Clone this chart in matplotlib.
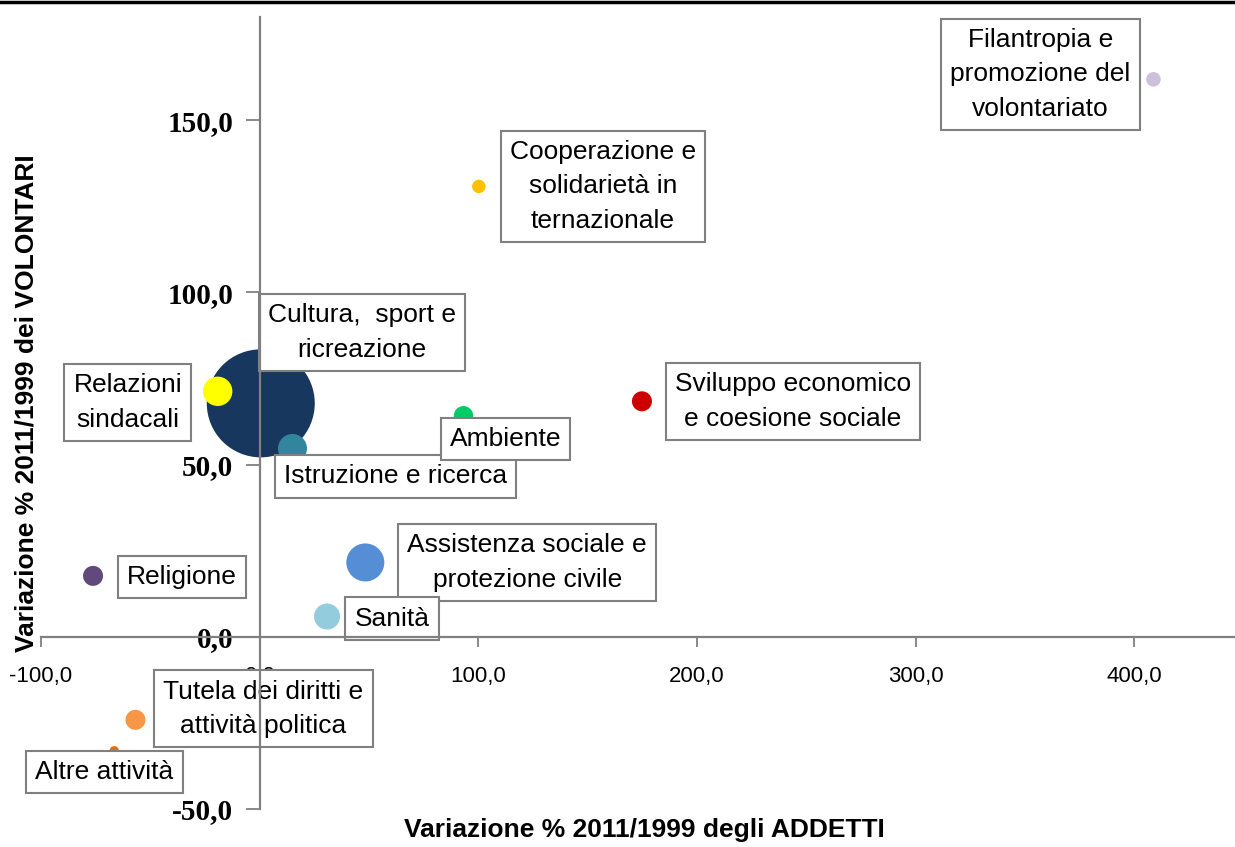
import matplotlib
matplotlib.use("Agg")
import matplotlib.pyplot as plt
from matplotlib.lines import Line2D
from matplotlib.ticker import FuncFormatter

# --- Data ---
settori = [
    "Filantropia e\npromozione del\nvolontariato",
    "Cooperazione e\nsolidarietà in\nternazionale",
    "Cultura,  sport e\nricreazione",
    "Relazioni\nsindacali",
    "Istruzione e ricerca",
    "Ambiente",
    "Sviluppo economico\ne coesione sociale",
    "Religione",
    "Assistenza sociale e\nprotezione civile",
    "Sanità",
    "Tutela dei diritti e\nattività politica",
    "Altre attività",
]
var_addetti = [408.7, 100.2, 0.5, -19.2, 15.0, 93.2, 174.8, -76.2, 48.3, 30.8, -56.8, -66.5]
var_volontari = [161.9, 130.8, 67.8, 71.3, 54.7, 64.2, 68.4, 17.7, 21.6, 5.9, -24.1, -33.1]
# relative bubble areas
bubble_size = [53, 45, 2916, 216, 210, 94, 100, 100, 361, 169, 100, 22]

colori = ["#CCC0DA", "#FFC000", "#17375E", "#FFFF00", "#31859C", "#00CC66",
          "#CC0000", "#604A7B", "#558ED5", "#93CDDD", "#F79646", "#E46C0A"]

# label box offsets from each bubble, in pixels
label_offsets = [(-113, 5), (124, 0), (101, 71), (-90, -11), (103, -28), (42, -23),
                 (151, 0), (89, -1), (162, 0), (65, -2), (128, 11), (-10, -21)]

x_ticks = [-100, 0, 100, 200, 300, 400]
y_ticks = [-50, 0, 50, 100, 150]

plt.rcParams['font.family'] = ['Liberation Sans', 'DejaVu Sans']

fig = plt.figure(figsize=(12.35, 8.47), dpi=100)
ax = fig.add_axes([41 / 1235, 38 / 847, 1 - 41 / 1235, (809 - 17) / 847])

# bubbles, largest first so small ones stay on top
order = sorted(range(len(settori)), key=lambda i: -bubble_size[i])
for i in order:
    ax.scatter(var_addetti[i], var_volontari[i], s=bubble_size[i] * 2.0736,
               color=colori[i], edgecolors='none', zorder=2)

for i, lab in enumerate(settori):
    ax.annotate(lab, (var_addetti[i], var_volontari[i]), xytext=label_offsets[i],
                textcoords='offset pixels', ha='center', va='center',
                multialignment='center', fontsize=19, color='black', zorder=3,
                linespacing=1.55,
                bbox=dict(boxstyle='square,pad=0.35', fc='white', ec='#808080', lw=1.5))

ax.set_xlim(-100, 446)
ax.set_ylim(-50, 180)

# axes crossing at zero
for side in ['top', 'right']:
    ax.spines[side].set_visible(False)
ax.spines['left'].set_position(('data', 0))
ax.spines['bottom'].set_position(('data', 0))
for side in ['left', 'bottom']:
    ax.spines[side].set_color('#808080')
    ax.spines[side].set_linewidth(1.6)
    ax.spines[side].set_zorder(4)

comma = FuncFormatter(lambda v, p: f"{v:.1f}".replace('.', ','))
ax.set_xticks(x_ticks)
ax.set_yticks(y_ticks)
ax.xaxis.set_major_formatter(comma)
ax.yaxis.set_major_formatter(comma)
ax.tick_params(axis='x', direction='out', length=7, width=1.3, color='#808080',
               labelsize=16, pad=14)
ax.tick_params(axis='y', direction='out', length=10, width=1.3, color='#808080',
               labelsize=21, pad=9)
for t in ax.get_yticklabels():
    t.set_fontfamily('Liberation Serif')
    t.set_fontweight('bold')

ax.patch.set_alpha(0)

fig.text(644 / 1235, 1 - 830 / 847, "Variazione % 2011/1999 degli ADDETTI",
         ha='center', va='center', fontsize=19, fontweight='bold')
fig.text(27 / 1235, 1 - 403 / 847, "Variazione % 2011/1999 dei VOLONTARI",
         ha='center', va='center', rotation=90, fontsize=19, fontweight='bold')

# black rule along the top
fig.add_artist(Line2D([0, 1], [1 - 2 / 847, 1 - 2 / 847], color='black', lw=2.5))

fig.savefig("out.png", dpi=100)
